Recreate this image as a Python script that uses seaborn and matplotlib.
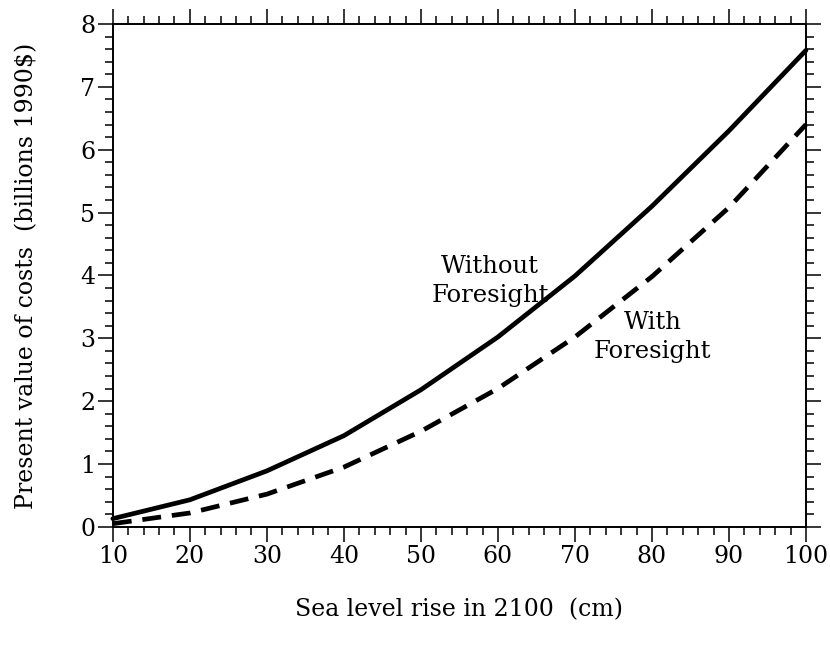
import matplotlib
matplotlib.use("Agg")
import matplotlib.pyplot as plt
import seaborn as sns
import pandas as pd
from matplotlib.ticker import MultipleLocator

sea_level_cm = [10, 20, 30, 40, 50, 60, 70, 80, 90, 100]
without_foresight = [0.13, 0.43, 0.89, 1.45, 2.18, 3.02, 3.99, 5.10, 6.30, 7.58]
with_foresight = [0.05, 0.22, 0.52, 0.95, 1.52, 2.20, 3.02, 3.98, 5.08, 6.40]
series_names = ["Without Foresight", "With Foresight"]

df = pd.concat([
    pd.DataFrame({"x": sea_level_cm, "y": without_foresight, "series": series_names[0]}),
    pd.DataFrame({"x": sea_level_cm, "y": with_foresight, "series": series_names[1]}),
])

sns.set_theme(style="white")
plt.rcParams['font.family'] = ['DejaVu Serif']

fig = plt.figure(figsize=(8.3, 6.48), dpi=100)
ax = fig.add_axes([0.136, 0.187, 0.835, 0.776])

sns.lineplot(data=df, x="x", y="y", hue="series", style="series",
             palette={series_names[0]: "black", series_names[1]: "black"},
             dashes={series_names[0]: "", series_names[1]: (4.0, 2.3)},
             linewidth=3.4, legend=False, ax=ax, clip_on=False)

ax.set_xlim(10, 100)
ax.set_ylim(0, 8)
ax.xaxis.set_major_locator(MultipleLocator(10))
ax.xaxis.set_minor_locator(MultipleLocator(2))
ax.yaxis.set_major_locator(MultipleLocator(1))
ax.yaxis.set_minor_locator(MultipleLocator(0.2))

for s in ax.spines.values():
    s.set_visible(True)
    s.set_color("black")
    s.set_linewidth(1.4)

ax.tick_params(which="both", direction="out", top=True, right=True,
               bottom=True, left=True, color="black", width=1.1,
               labelsize=17, labelcolor="black")
ax.tick_params(which="major", length=10.8, pad=2)
ax.tick_params(which="minor", length=5.6)

ax.set_xlabel("Sea level rise in 2100  (cm)", fontsize=17, color="black", labelpad=22)
ax.set_ylabel("Present value of costs  (billions 1990$)", fontsize=17, color="black", labelpad=30)

ax.text(59, 3.91, "Without\nForesight", ha="center", va="center", fontsize=17.5,
        linespacing=1.3, color="black")
ax.text(80.1, 3.02, "With\nForesight", ha="center", va="center", fontsize=17.5,
        linespacing=1.3, color="black")

fig.savefig("out.png", dpi=100, facecolor="white")
